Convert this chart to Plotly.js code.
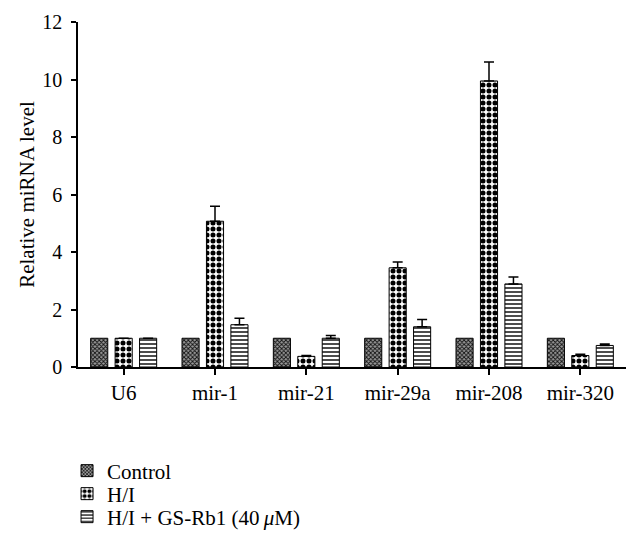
<!DOCTYPE html>
<html><head><meta charset="utf-8">
<script src="https://cdn.plot.ly/plotly-3.0.1.min.js"></script>
<style>body{margin:0;background:#fff}#c{width:639px;height:554px}</style>
</head><body><div id="c"></div>
<script>
const categories = ["U6","mir-1","mir-21","mir-29a","mir-208","mir-320"];
const controlVals = [1,1,1,1,1,1];
const hiVals = [1,5.07,0.37,3.45,9.95,0.40];
const hiErr = [null,0.52,0.03,0.2,0.66,0.04];
const rbVals = [1,1.47,1.0,1.4,2.89,0.75];
const rbErr = [null,0.23,0.1,0.25,0.24,0.05];
const seriesNames = ["Control","H/I","H/I + GS-Rb1 (40\u2009<i>\u03bc</i>M)"];

const serif = "Liberation Serif, Times New Roman, serif";
const zeros = categories.map(()=>0);
function tr(name, y, err, pattern, leg){
  const t = {type:'bar', name:name, x:categories, y:y, legend:leg,
    marker:{color:'#ffffff', line:{color:'#000', width:1}, pattern:pattern}};
  if(err) t.error_y = {type:'data', array:err, arrayminus:zeros, symmetric:false, color:'#000', thickness:1.5, width:5};
  return t;
}
const data = [
  tr(seriesNames[0], controlVals, null, {shape:'x', fgcolor:'#111', bgcolor:'#999', size:3, solidity:0.5}, 'legend'),
  tr(seriesNames[1], hiVals, hiErr, {shape:'.', fgcolor:'#000', bgcolor:'#fff', size:6, solidity:0.55}, 'legend2'),
  tr(seriesNames[2], rbVals, rbErr, {shape:'-', fgcolor:'#000', bgcolor:'#fff', size:4, solidity:0.35}, 'legend3')
];
const legRows = [471, 494, 517];
function leg(row){
  return {x:-0.02, y:(367-row)/345, xanchor:'left', yanchor:'middle', bgcolor:'rgba(0,0,0,0)',
    font:{family:serif, size:21, color:'#000'}, itemwidth:30};
}
const layout = {
  width:639, height:554,
  margin:{l:78, r:13, t:22, b:187},
  paper_bgcolor:'#fff', plot_bgcolor:'#fff',
  font:{family:serif, size:21, color:'#000'},
  barmode:'group', bargap:0.197, bargroupgap:0.3,
  showlegend:true,
  legend:leg(legRows[0]), legend2:leg(legRows[1]), legend3:leg(legRows[2]),
  xaxis:{showline:true, linecolor:'#000', linewidth:1.5, ticks:'outside', ticklen:6, tickcolor:'#000', tickwidth:1.5,
    range:[-0.5,5.5], showgrid:false, zeroline:false, tickfont:{family:serif, size:21}, ticklabelstandoff:0},
  yaxis:{showline:true, linecolor:'#000', linewidth:1.5, ticks:'outside', ticklen:5, tickcolor:'#000', tickwidth:1.5,
    range:[0,12], dtick:2, showgrid:false, zeroline:false, tickfont:{family:serif, size:20}, ticklabelstandoff:5,
    title:{text:'Relative miRNA level', font:{family:serif, size:21}, standoff:2}}
};
Plotly.newPlot('c', data, layout, {displayModeBar:false});
</script></body></html>
